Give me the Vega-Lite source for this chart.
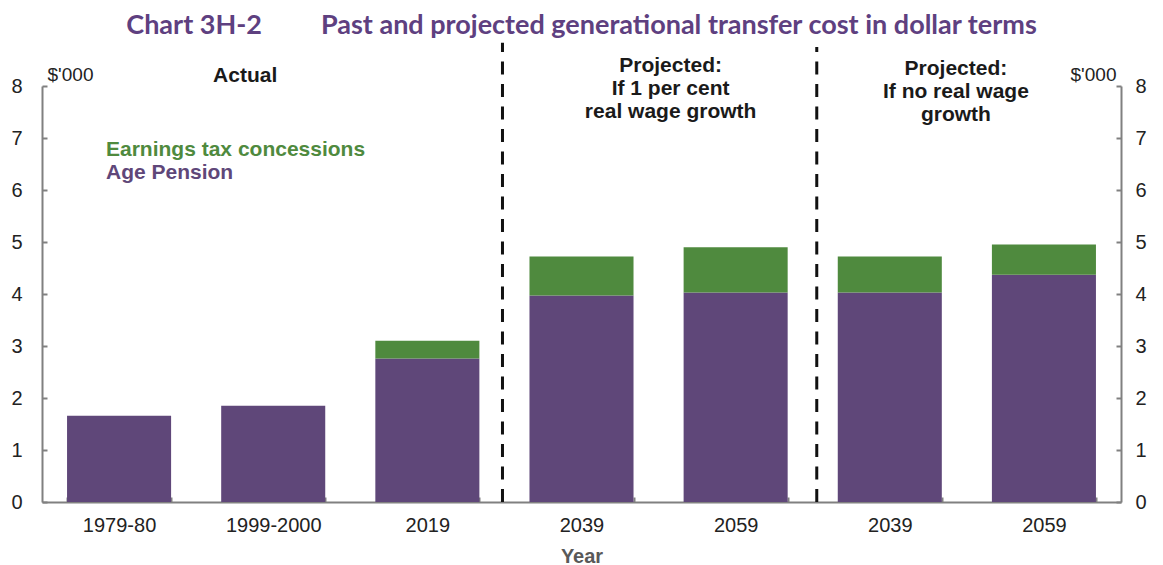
{
  "$schema": "https://vega.github.io/schema/vega-lite/v6.json",
  "width": 1079,
  "height": 416,
  "autosize": {"type": "none"},
  "padding": {"left": 42, "top": 86, "right": 42, "bottom": 63},
  "background": "white",
  "config": {"view": {"stroke": null}, "font": "Liberation Sans"},
  "title": {
    "text": "Chart 3H-2\u00a0\u00a0\u00a0\u00a0\u00a0\u00a0\u00a0\u00a0\u00a0Past and projected generational transfer cost in dollar terms",
    "font": "Lato",
    "fontSize": 27,
    "fontWeight": "bold",
    "color": "#5e4080",
    "anchor": "middle",
    "frame": "group",
    "baseline": "alphabetic",
    "offset": -20
  },
  "datasets": {
    "bars": [
      {"year": "1979-80", "type": "Age Pension", "value": 1.66},
      {"year": "1999-2000", "type": "Age Pension", "value": 1.85},
      {"year": "2019", "type": "Age Pension", "value": 2.76},
      {"year": "2019", "type": "Earnings tax concessions", "value": 0.34},
      {"year": "2039 (1%)", "type": "Age Pension", "value": 3.97},
      {"year": "2039 (1%)", "type": "Earnings tax concessions", "value": 0.75},
      {"year": "2059 (1%)", "type": "Age Pension", "value": 4.03},
      {"year": "2059 (1%)", "type": "Earnings tax concessions", "value": 0.87},
      {"year": "2039 (no)", "type": "Age Pension", "value": 4.03},
      {"year": "2039 (no)", "type": "Earnings tax concessions", "value": 0.69},
      {"year": "2059 (no)", "type": "Age Pension", "value": 4.37},
      {"year": "2059 (no)", "type": "Earnings tax concessions", "value": 0.58}
    ]
  },
  "layer": [
    {
      "data": {"name": "bars"},
      "transform": [{"calculate": "datum.type === 'Age Pension' ? 0 : 1", "as": "ord"}],
      "mark": {"type": "bar"},
      "encoding": {
        "x": {
          "field": "year",
          "type": "nominal",
          "sort": null,
          "scale": {
            "domain": ["1979-80", "1999-2000", "2019", "2039 (1%)", "2059 (1%)", "2039 (no)", "2059 (no)"],
            "paddingInner": 0.325,
            "paddingOuter": 0.1625
          },
          "axis": {
            "title": "Year",
            "labelExpr": "split(datum.label, ' ')[0]",
            "labelAngle": 0,
            "tickBand": "extent",
            "tickSize": -5,
            "tickColor": "#808080",
            "tickWidth": 2,
            "domainColor": "#808080",
            "domainWidth": 2,
            "labelPadding": 18,
            "labelFontSize": 20,
            "labelFont": "Liberation Sans",
            "labelColor": "#222222",
            "titleFont": "Liberation Sans",
            "titleFontSize": 20,
            "titleFontWeight": "bold",
            "titleColor": "#595959",
            "titleY": 54,
            "titleBaseline": "middle"
          }
        },
        "y": {
          "field": "value",
          "type": "quantitative",
          "stack": "zero",
          "scale": {"domain": [0, 8], "nice": false},
          "axis": {
            "orient": "left",
            "values": [0, 1, 2, 3, 4, 5, 6, 7, 8],
            "grid": false,
            "domainColor": "#808080",
            "domainWidth": 2,
            "tickColor": "#808080",
            "tickWidth": 2,
            "tickSize": -5,
            "labelPadding": 25,
            "labelFontSize": 20,
            "labelFont": "Liberation Sans",
            "labelColor": "#222222",
            "title": "$'000",
            "titleAngle": 0,
            "titleX": 28,
            "titleY": -12,
            "titleAlign": "center",
            "titleBaseline": "middle",
            "titleFont": "Liberation Sans",
            "titleFontWeight": "normal",
            "titleFontSize": 19,
            "titleColor": "#222222"
          }
        },
        "color": {
          "field": "type",
          "type": "nominal",
          "scale": {
            "domain": ["Earnings tax concessions", "Age Pension"],
            "range": ["#4f8a3e", "#5f4779"]
          },
          "legend": {
            "orient": "none",
            "legendX": 43,
            "legendY": 53,
            "title": null,
            "symbolOpacity": 0,
            "symbolSize": 0,
            "symbolStrokeWidth": 0,
            "labelOffset": 0,
            "labelFont": "Liberation Sans",
            "labelFontSize": 21,
            "labelFontWeight": "bold",
            "labelLimit": 500,
            "rowPadding": 1,
            "padding": 0,
            "encode": {"labels": {"update": {"fill": {"signal": "scale('color', datum.value)"}}}}
          }
        },
        "order": {"field": "ord", "type": "quantitative"}
      }
    },
    {
      "data": {"values": [{}]},
      "mark": {"type": "rule", "strokeDash": [13, 9.5], "strokeWidth": 3, "color": "#111111", "xOffset": -27},
      "encoding": {
        "x": {"datum": "2039 (1%)", "type": "nominal", "bandPosition": 0},
        "y": {
          "datum": 0,
          "type": "quantitative",
          "axis": {
            "orient": "right",
            "values": [0, 1, 2, 3, 4, 5, 6, 7, 8],
            "grid": false,
            "domainColor": "#808080",
            "domainWidth": 2,
            "tickColor": "#808080",
            "tickWidth": 2,
            "tickSize": -5,
            "labelPadding": 19,
            "labelFontSize": 20,
            "labelFont": "Liberation Sans",
            "labelColor": "#222222",
            "title": "$'000",
            "titleAngle": 0,
            "titleX": -28,
            "titleY": -12,
            "titleAlign": "center",
            "titleBaseline": "middle",
            "titleFont": "Liberation Sans",
            "titleFontWeight": "normal",
            "titleFontSize": 19,
            "titleColor": "#222222"
          }
        },
        "y2": {"datum": 8.83}
      }
    },
    {
      "data": {"values": [{}]},
      "mark": {"type": "rule", "strokeDash": [13, 9.5], "strokeWidth": 3, "color": "#111111", "xOffset": -21},
      "encoding": {
        "x": {"datum": "2039 (no)", "type": "nominal", "bandPosition": 0},
        "y": {"datum": 0, "type": "quantitative", "axis": null},
        "y2": {"datum": 8.75}
      }
    },
    {
      "data": {"values": [{}]},
      "mark": {"type": "text", "font": "Liberation Sans", "fontWeight": "bold", "fontSize": 21, "color": "#1a1a1a", "dx": -28, "baseline": "middle"},
      "encoding": {
        "x": {"datum": "1999-2000", "type": "nominal"},
        "y": {"datum": 8.2, "type": "quantitative", "axis": null},
        "text": {"value": "Actual"}
      }
    },
    {
      "data": {"values": [{}]},
      "mark": {"type": "text", "font": "Liberation Sans", "fontWeight": "bold", "fontSize": 21, "color": "#1a1a1a", "dx": -13, "baseline": "middle", "lineHeight": 23},
      "encoding": {
        "x": {"datum": "2059 (1%)", "type": "nominal", "bandPosition": 0},
        "y": {"datum": 8.38, "type": "quantitative", "axis": null},
        "text": {"value": ["Projected:", "If 1 per cent", "real wage growth"]}
      }
    },
    {
      "data": {"values": [{}]},
      "mark": {"type": "text", "font": "Liberation Sans", "fontWeight": "bold", "fontSize": 21, "color": "#1a1a1a", "dx": -36, "baseline": "middle", "lineHeight": 23},
      "encoding": {
        "x": {"datum": "2059 (no)", "type": "nominal", "bandPosition": 0},
        "y": {"datum": 8.32, "type": "quantitative", "axis": null},
        "text": {"value": ["Projected:", "If no real wage", "growth"]}
      }
    }
  ],
  "resolve": {"axis": {"y": "independent"}}
}
